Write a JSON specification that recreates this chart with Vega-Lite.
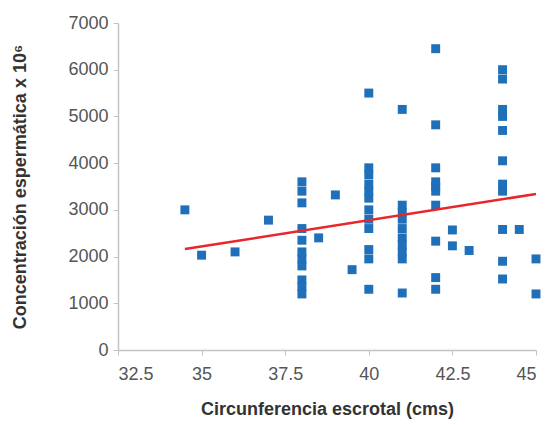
{
  "$schema": "https://vega.github.io/schema/vega-lite/v6.json",
  "autosize": {"type": "none"},
  "padding": {"left": 118, "top": 23, "right": 18, "bottom": 75},
  "width": 418,
  "height": 327,
  "background": "white",
  "config": {
    "view": {"stroke": null},
    "axis": {
      "grid": false,
      "domainColor": "#c4c4c4",
      "domainWidth": 1.5,
      "tickColor": "#c4c4c4",
      "tickSize": 5,
      "labelColor": "#555555",
      "labelFont": "Liberation Sans",
      "labelFontSize": 18,
      "titleFont": "Liberation Sans",
      "titleFontSize": 18,
      "titleColor": "#333333",
      "titleFontWeight": "bold"
    }
  },
  "datasets": {
    "pts": [
      {"cm": 34.5, "conc": 3000},
      {"cm": 35, "conc": 2030},
      {"cm": 36, "conc": 2100},
      {"cm": 37, "conc": 2780},
      {"cm": 38, "conc": 3600},
      {"cm": 38, "conc": 3400},
      {"cm": 38, "conc": 3150},
      {"cm": 38, "conc": 2600},
      {"cm": 38, "conc": 2350},
      {"cm": 38, "conc": 2100},
      {"cm": 38, "conc": 1950},
      {"cm": 38, "conc": 1800},
      {"cm": 38, "conc": 1500},
      {"cm": 38, "conc": 1350},
      {"cm": 38, "conc": 1200},
      {"cm": 38.5, "conc": 2400},
      {"cm": 39, "conc": 3320},
      {"cm": 39.5, "conc": 1720},
      {"cm": 40, "conc": 5500},
      {"cm": 40, "conc": 3900},
      {"cm": 40, "conc": 3750},
      {"cm": 40, "conc": 3550},
      {"cm": 40, "conc": 3400},
      {"cm": 40, "conc": 3250},
      {"cm": 40, "conc": 3000},
      {"cm": 40, "conc": 2800},
      {"cm": 40, "conc": 2600},
      {"cm": 40, "conc": 2150},
      {"cm": 40, "conc": 1950},
      {"cm": 40, "conc": 1300},
      {"cm": 41, "conc": 5150},
      {"cm": 41, "conc": 3100},
      {"cm": 41, "conc": 2950},
      {"cm": 41, "conc": 2800},
      {"cm": 41, "conc": 2600},
      {"cm": 41, "conc": 2400},
      {"cm": 41, "conc": 2250},
      {"cm": 41, "conc": 2100},
      {"cm": 41, "conc": 1950},
      {"cm": 41, "conc": 1220},
      {"cm": 42, "conc": 6450},
      {"cm": 42, "conc": 4820},
      {"cm": 42, "conc": 3900},
      {"cm": 42, "conc": 3600},
      {"cm": 42, "conc": 3500},
      {"cm": 42, "conc": 3400},
      {"cm": 42, "conc": 3100},
      {"cm": 42, "conc": 2330},
      {"cm": 42, "conc": 1550},
      {"cm": 42, "conc": 1300},
      {"cm": 42.5, "conc": 2570},
      {"cm": 42.5, "conc": 2230},
      {"cm": 43, "conc": 2130},
      {"cm": 44, "conc": 6000},
      {"cm": 44, "conc": 5800},
      {"cm": 44, "conc": 5150},
      {"cm": 44, "conc": 5000},
      {"cm": 44, "conc": 4700},
      {"cm": 44, "conc": 4050},
      {"cm": 44, "conc": 3550},
      {"cm": 44, "conc": 3400},
      {"cm": 44, "conc": 2580},
      {"cm": 44, "conc": 1900},
      {"cm": 44, "conc": 1520},
      {"cm": 44.5, "conc": 2580},
      {"cm": 45, "conc": 1950},
      {"cm": 45, "conc": 1200}
    ],
    "trend": [
      {"cm": 34.5, "conc": 2160},
      {"cm": 45, "conc": 3340}
    ]
  },
  "layer": [
    {
      "data": {"name": "pts"},
      "mark": {"type": "square", "filled": true, "size": 80, "color": "#1f70b9", "opacity": 1},
      "encoding": {
        "x": {
          "field": "cm", "type": "quantitative",
          "scale": {"domain": [32.5, 45], "nice": false, "zero": false},
          "axis": {"values": [32.5, 35, 37.5, 40, 42.5, 45], "title": "Circunferencia escrotal (cms)", "labelPadding": 10, "titlePadding": 17, "format": ".1~f"}
        },
        "y": {
          "field": "conc", "type": "quantitative",
          "scale": {"domain": [0, 7000], "nice": false},
          "axis": {"values": [0, 1000, 2000, 3000, 4000, 5000, 6000, 7000], "title": "Concentración espermática x 10⁶", "labelPadding": 5, "titlePadding": 38, "format": "d"}
        }
      }
    },
    {
      "data": {"name": "trend"},
      "mark": {"type": "line", "color": "#e8262c", "strokeWidth": 2.5},
      "encoding": {
        "x": {"field": "cm", "type": "quantitative"},
        "y": {"field": "conc", "type": "quantitative"}
      }
    }
  ]
}
